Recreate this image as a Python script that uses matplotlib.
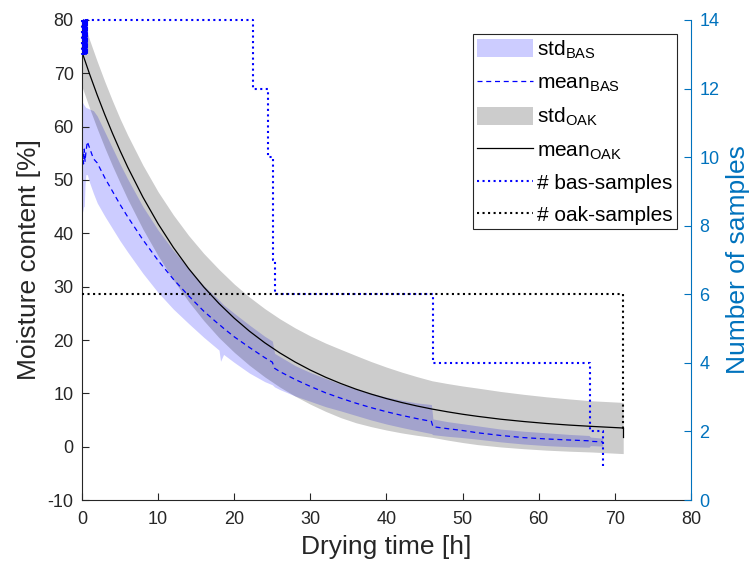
import matplotlib.pyplot as plt

plt.rcParams['font.family'] = ['Liberation Sans', 'DejaVu Sans']
plt.rcParams['mathtext.fontset'] = 'custom'
plt.rcParams['mathtext.rm'] = 'Liberation Sans'
plt.rcParams['axes.unicode_minus'] = False

# drying time [h] and moisture content [%]
bas_t = [0, 0.1, 0.2, 0.3, 0.4, 0.5, 0.7, 1.0, 1.5, 2.0, 3, 4, 5, 6, 8, 10, 12, 14, 16,
         18, 18.2, 18.6, 20, 22, 24, 25.0, 25.3, 26, 28, 30, 32, 34, 36, 38, 40, 42, 44,
         45.9, 46.1, 48, 50, 52, 55, 58, 61, 64, 66.6, 66.8, 68.4]
bas_mean = [54.0, 55.5, 53.0, 55.8, 53.5, 55.0, 57.2, 56.0, 54.0, 53.2, 50.4, 47.9, 45.4,
            43.1, 38.8, 34.9, 31.4, 28.3, 25.4, 22.9, 22.7, 22.2, 20.6, 18.6, 16.7, 15.85,
            14.7, 14.07, 12.6, 11.3, 10.1, 9.09, 8.15, 7.31, 6.55, 5.87, 5.26, 4.74, 3.75,
            3.38, 3.03, 2.6, 2.1, 1.7, 1.45, 1.25, 1.1, 1.0, 0.9]
bas_hi = [64.5, 64.5, 64.2, 64.0, 63.8, 63.6, 63.5, 63.3, 63.0, 62.0, 59.0, 56.0, 53.0,
          50.2, 45.0, 40.6, 36.8, 33.4, 30.2, 27.5, 27.2, 26.6, 25.0, 22.8, 20.7, 19.8,
          17.5, 16.9, 15.2, 13.9, 12.8, 11.7, 10.8, 10.0, 9.3, 8.7, 8.2, 7.9, 5.2, 4.7,
          4.3, 3.9, 3.3, 2.9, 2.6, 2.3, 2.1, 1.8, 1.6]
bas_lo = [45.0, 44.0, 45.0, 45.0, 49.0, 51.0, 51.0, 49.5, 47.5, 45.7, 43.2, 40.9, 38.6,
          36.5, 32.5, 28.9, 25.8, 23.1, 20.5, 18.1, 16.0, 17.3, 15.8, 13.8, 12.2, 11.6,
          11.2, 10.7, 9.5, 8.5, 7.5, 6.7, 5.85, 5.0, 4.25, 3.6, 3.0, 2.45, 2.25, 1.95,
          1.7, 1.4, 0.9, 0.5, 0.2, 0.0, -0.1, 0.2, 0.1]

oak_t = [0, 1, 2, 3, 4, 5, 6, 8, 10, 12, 14, 16, 18, 20, 22, 24, 26, 28, 30, 32, 34, 36,
         38, 40, 42, 44, 46, 48, 50, 52, 55, 58, 61, 64, 67, 70, 71.1]
oak_mean = [74.0, 69.85, 65.93, 62.24, 58.77, 55.5, 52.42, 46.79, 41.79, 37.36, 33.42,
            29.93, 26.84, 24.09, 21.65, 19.49, 17.57, 15.87, 14.36, 13.02, 11.84, 10.78,
            9.85, 9.02, 8.28, 7.63, 7.05, 6.54, 6.08, 5.68, 5.15, 4.72, 4.35, 4.05, 3.8,
            3.58, 3.5]
oak_std = [6.5, 6.4, 6.3, 6.2, 6.1, 6.0, 6.0, 6.0, 6.0, 6.1, 6.2, 6.3, 6.4, 6.4, 6.4, 6.4,
           6.4, 6.4, 6.4, 6.4, 6.4, 6.3, 6.1, 5.9, 5.7, 5.5, 5.3, 5.3, 5.3, 5.3, 5.2, 5.1,
           5.0, 4.9, 4.8, 4.8, 4.8]
oak_tail = [3.5, 1.8]

# number of samples
bas_n_t = [0, 0.05, 0.1, 0.15, 0.2, 0.25, 0.3, 0.35, 0.4, 0.45, 0.5, 0.55, 0.6, 0.65, 0.7,
           22.4, 24.4, 25.1, 25.4, 46.07, 66.75, 68.4]
bas_n = [14, 13, 14, 13, 14, 13, 14, 13, 14, 13, 14, 13, 14, 13, 14,
         12, 10, 7, 6, 4, 2, 1]
oak_n_t = [0, 71.1, 71.1]
oak_n = [6, 6, 2]

matlab_blue = '#0072BD'
dark = '#262626'

fig = plt.figure(figsize=(7.55, 5.68), dpi=100)
ax = fig.add_axes([0.1086, 0.1197, 0.8066, 0.8451])
ax2 = ax.twinx()

h1 = ax.fill_between(bas_t, bas_lo, bas_hi, color=(0, 0, 1), alpha=0.2, lw=0)
h2, = ax.plot(bas_t, bas_mean, '--', color=(0, 0, 1), lw=0.9, dashes=(4, 3))
oak_lo = [m - s for m, s in zip(oak_mean, oak_std)]
oak_hi = [m + s for m, s in zip(oak_mean, oak_std)]
h3 = ax.fill_between(oak_t, oak_lo, oak_hi, color='k', alpha=0.2, lw=0)
h4, = ax.plot(oak_t, oak_mean, '-', color='k', lw=0.9)
ax.plot([oak_t[-1], oak_t[-1]], oak_tail, '-', color='k', lw=0.9)

h5, = ax2.plot(bas_n_t, bas_n, ':', color=(0, 0, 1), lw=1.5, drawstyle='steps-post',
               clip_on=False)
h6, = ax2.plot(oak_n_t, oak_n, ':', color='k', lw=1.5, clip_on=False)

ax.set_xlim(0, 80)
ax.set_ylim(-10, 80)
ax2.set_ylim(0, 14)
ax.set_xticks(range(0, 81, 10))
ax.set_yticks(range(-10, 81, 10))
ax2.set_yticks(range(0, 15, 2))

for a in (ax, ax2):
    a.spines['top'].set_visible(False)
ax.spines['right'].set_visible(False)
ax2.spines['left'].set_visible(False)
ax2.spines['bottom'].set_visible(False)
ax.spines['left'].set_color(dark)
ax.spines['bottom'].set_color(dark)
ax2.spines['right'].set_color(matlab_blue)

ax.tick_params(direction='in', length=5, width=0.8, labelsize=13, colors=dark)
ax.tick_params(axis='x', pad=8)
ax.tick_params(axis='y', pad=6)
ax2.tick_params(direction='in', length=5, width=0.8, labelsize=13, colors=matlab_blue,
                pad=6)

ax.set_xlabel('Drying time [h]', fontsize=19, color=dark, labelpad=5)
ax.set_ylabel('Moisture content [%]', fontsize=19, color=dark, labelpad=5)
ax2.set_ylabel('Number of samples', fontsize=19, color=matlab_blue, labelpad=5)

leg = ax2.legend([h1, h2, h3, h4, h5, h6],
                 [r'std$_\mathrm{BAS}$', r'mean$_\mathrm{BAS}$', r'std$_\mathrm{OAK}$',
                  r'mean$_\mathrm{OAK}$', '# bas-samples', '# oak-samples'],
                 loc='upper right', bbox_to_anchor=(0.8967, 0.9396),
                 bbox_transform=fig.transFigure, borderaxespad=0, fontsize=15,
                 frameon=True, fancybox=False, edgecolor=dark, framealpha=1,
                 handlelength=2.7, handleheight=0.95, labelspacing=0.55, borderpad=0.2,
                 handletextpad=0.2)
leg.get_frame().set_linewidth(0.8)

fig.savefig('out.png', dpi=100)
